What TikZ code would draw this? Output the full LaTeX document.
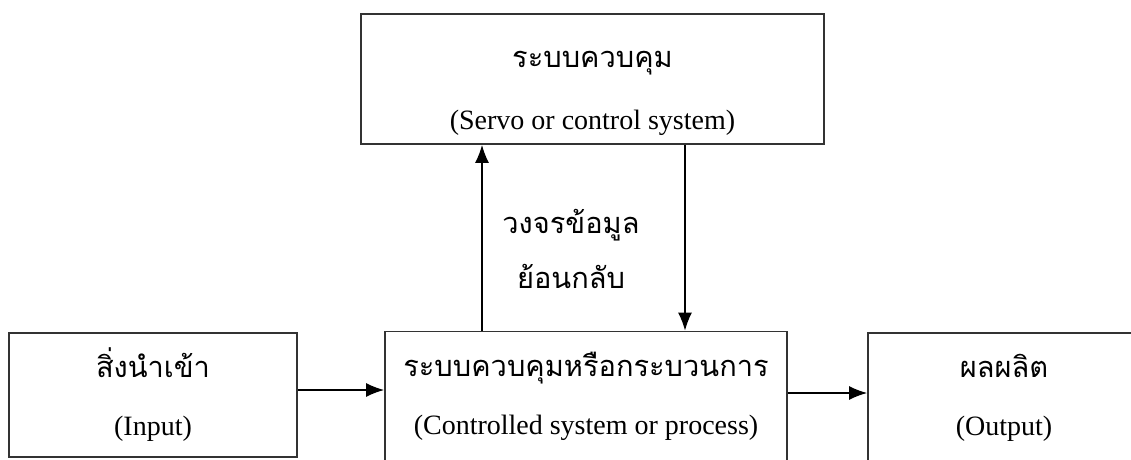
\documentclass[tikz,border=0pt]{standalone}
\usepackage{fontspec}
\setmainfont{Liberation Serif}
\newfontfamily\thaifont[Script=Thai]{Loma}
\usetikzlibrary{arrows.meta}
\newcommand\thaitext{\thaifont\fontsize{14.5}{18}\selectfont}
\tikzset{
  blockbox/.style={draw=black!80, line width=0.9pt, align=center, inner sep=0pt,
    font=\fontsize{14}{29}\selectfont},
  flowline/.style={->, >={Latex[length=9pt,width=7pt]}, line width=0.7pt}
}
\begin{document}
\begin{tikzpicture}[x=0.5pt,y=-0.5pt]
				\useasboundingbox (0,0) rectangle (1131,460);
				\clip (0,0) rectangle (1131,460);
				\node[blockbox, minimum width=231.5pt, minimum height=65pt] (servo) at (592.5,79)
				{\rule{0pt}{23pt}{\thaitext ระบบควบคุม}\\[2pt](Servo or control system)};
				\node[blockbox, minimum width=144pt, minimum height=62pt] (input) at (153,395)
				{{\thaitext สิ่งนำเข้า}\\(Input)};
				\node[blockbox, minimum width=201pt, minimum height=64.5pt] (proc) at (586,396)
				{{\thaitext ระบบควบคุมหรือกระบวนการ}\\(Controlled system or process)};
				\node[blockbox, minimum width=136pt, minimum height=64.5pt] (output) at (1004,397.5)
				{{\thaitext ผลผลิต}\\(Output)};

				\coordinate (up) at (482,0);
				\coordinate (down) at (685,0);
				\draw[flowline] (proc.north -| up)--(servo.south -| up);
				\draw[flowline] (servo.south -| down)--(proc.north -| down);
				\node[align=center, font=\thaifont\fontsize{14.5}{27.5}\selectfont] (loop) at (571,249)
				{วงจรข้อมูล\\ย้อนกลับ};

				\draw[flowline] ([yshift=2.5pt]input.east)--([yshift=2.5pt]input.east -| proc.west);
				\draw[flowline] ([yshift=1.5pt]proc.east)--([yshift=1.5pt]proc.east -| output.west);
				\end{tikzpicture}
\end{document}
